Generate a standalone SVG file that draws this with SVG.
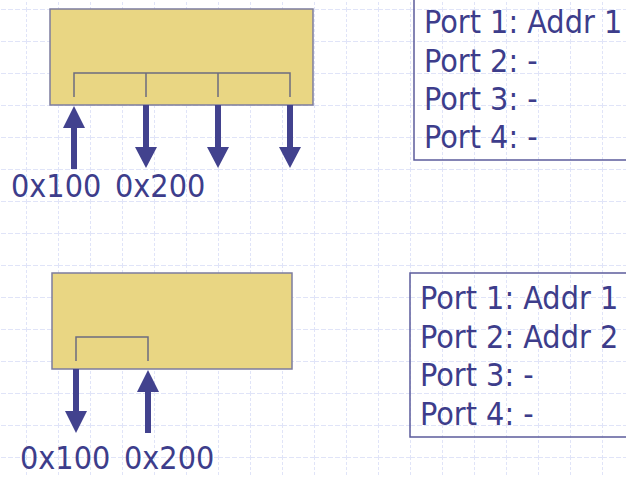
<svg xmlns="http://www.w3.org/2000/svg" width="626" height="477" viewBox="0 0 626 477">
  <defs>
    <pattern id="grid" x="26" y="9" width="32" height="32" patternUnits="userSpaceOnUse">
      <line x1="0" y1="0.5" x2="32" y2="0.5" class="gridline" stroke-dasharray="5 2"/>
      <line x1="0.5" y1="0" x2="0.5" y2="32" class="gridline" stroke-dasharray="3 2"/>
    </pattern>
    <style>
      .gridline { stroke: #e0e4f8; stroke-width: 1; }
      .block { fill: #e9d683; stroke: #7c7c9e; stroke-width: 1.5; }
      .bus { fill: none; stroke: #6c6c80; stroke-width: 1.5; }
      .table { fill: none; stroke: #5c5c9c; stroke-width: 1.5; }
      .arrow { fill: #42428e; }
      .label { font-family: 'DejaVu Sans Condensed', 'DejaVu Sans', sans-serif; font-stretch: condensed; font-size: 32px; fill: #3d3d8b; }
    </style>
  </defs>

  <rect x="0" y="0" width="626" height="477" fill="#ffffff"/>
  <rect x="0" y="0" width="626" height="477" fill="url(#grid)"/>

  <!-- upper device: one bus with four ports -->
  <g id="device-top">
    <rect class="block" x="50" y="9" width="263" height="96"/>
    <path class="bus" d="M74,97 V73 H290 V97 M146,73 V97 M218,73 V97"/>
  </g>

  <g id="table-top">
    <path class="table" d="M414,-2 V160 H628"/>
    <text class="label" x="424" y="33">Port 1: Addr 1</text>
    <text class="label" x="424" y="72">Port 2: -</text>
    <text class="label" x="424" y="110">Port 3: -</text>
    <text class="label" x="424" y="148">Port 4: -</text>
  </g>

  <!-- lower device: two ports -->
  <g id="device-bottom">
    <rect class="block" x="52" y="273" width="240" height="96"/>
    <path class="bus" d="M76,361 V337 H148 V361"/>
  </g>

  <g id="table-bottom">
    <path class="table" d="M628,273 H410 V437 H628"/>
    <text class="label" x="420" y="309">Port 1: Addr 1</text>
    <text class="label" x="420" y="348">Port 2: Addr 2</text>
    <text class="label" x="420" y="386">Port 3: -</text>
    <text class="label" x="420" y="425">Port 4: -</text>
  </g>

  <!-- address labels -->
  <g id="addr-top">
    <text class="label" x="11" y="197">0x100</text>
    <text class="label" x="115" y="197">0x200</text>
  </g>
  <g id="addr-bottom">
    <text class="label" x="20" y="469">0x100</text>
    <text class="label" x="124" y="469">0x200</text>
  </g>

  <!-- arrows into and out of the ports -->
  <g id="connectors">
    <polygon class="arrow" points="74,106 85,128 77,128 77,169 71,169 71,128 63,128"/>
    <polygon class="arrow" points="143,105 149,105 149,147 157,147 146,168 135,147 143,147"/>
    <polygon class="arrow" points="215,105 221,105 221,147 229,147 218,168 207,147 215,147"/>
    <polygon class="arrow" points="287,105 293,105 293,147 301,147 290,168 279,147 287,147"/>
    <polygon class="arrow" points="73,369 79,369 79,411 87,411 76,433 65,411 73,411"/>
    <polygon class="arrow" points="148,370 159,392 151,392 151,433 145,433 145,392 137,392"/>
  </g>
</svg>
